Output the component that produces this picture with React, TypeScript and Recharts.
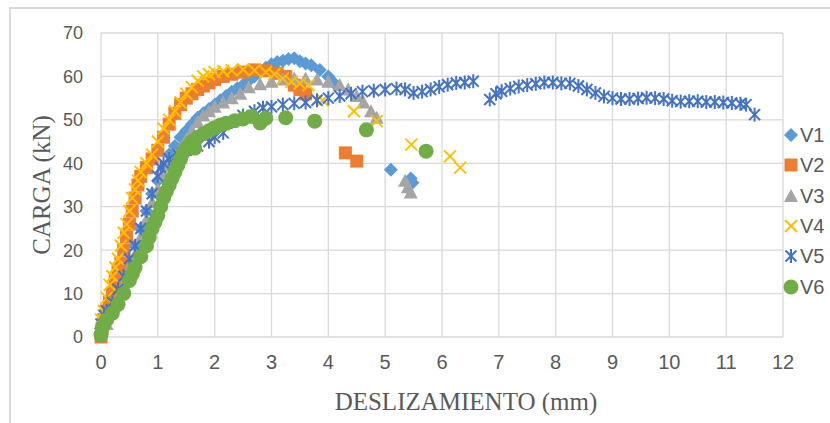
import React from "react";
import { CartesianGrid, Legend, Scatter, ScatterChart, XAxis, YAxis } from "recharts";

// [deslizamiento (mm), carga (kN)]
const v1: [number, number][] = [
  [0, 2], [0.05, 4], [0.1, 5], [0.2, 8], [0.3, 11], [0.4, 14], [0.5, 17], [0.6, 21], [0.7, 25],
  [0.8, 29], [0.9, 33], [1.0, 36], [1.1, 39], [1.2, 42], [1.3, 44], [1.4, 46], [1.5, 47.5],
  [1.6, 49], [1.7, 50.5], [1.8, 51.5], [1.9, 52.5], [2.0, 53.5], [2.1, 54.5], [2.2, 55.5],
  [2.3, 56.5], [2.4, 57.3], [2.5, 58], [2.6, 59], [2.7, 60], [2.8, 61], [2.9, 62], [3.0, 62.8],
  [3.1, 63.3], [3.2, 63.6], [3.3, 64], [3.4, 64.2], [3.5, 63.5], [3.6, 63], [3.7, 62.6],
  [3.85, 61.5], [4.0, 60], [4.1, 58.5], [5.1, 38.5], [5.45, 36.5], [5.48, 35.5],
];
const v2: [number, number][] = [
  [0, 0], [0.02, 2], [0.05, 4], [0.1, 6], [0.15, 8], [0.2, 10], [0.25, 13], [0.3, 15], [0.35, 17],
  [0.4, 20], [0.45, 23], [0.5, 26], [0.55, 29], [0.6, 32], [0.65, 35], [0.7, 37], [0.8, 39],
  [0.9, 41], [1.0, 43], [1.1, 46], [1.2, 49], [1.3, 51.5], [1.4, 53.5], [1.5, 55], [1.6, 56],
  [1.7, 57], [1.8, 57.8], [1.9, 58.5], [2.0, 59.3], [2.15, 60], [2.3, 60.5], [2.5, 61], [2.7, 61.5],
  [2.9, 61.3], [3.1, 60.7], [3.25, 60], [3.4, 58], [3.5, 57], [3.6, 56], [4.3, 42.4], [4.5, 40.5],
];
const v3: [number, number][] = [
  [0, 1], [0.1, 3], [0.2, 6], [0.3, 9], [0.4, 12], [0.5, 16], [0.6, 19], [0.7, 23], [0.8, 27],
  [0.9, 31], [1.0, 34], [1.1, 37], [1.2, 39.5], [1.3, 41.5], [1.4, 43.5], [1.5, 45.5], [1.6, 47.5],
  [1.7, 49.5], [1.8, 51], [1.9, 52], [2.0, 53], [2.15, 54], [2.3, 55], [2.45, 56], [2.6, 57.5],
  [2.8, 58.2], [3.0, 58.8], [3.2, 59.3], [3.4, 59.5], [3.6, 59.5], [3.8, 59.3], [4.0, 58.8],
  [4.2, 58], [4.35, 57], [4.5, 55.5], [4.62, 54], [4.75, 52], [4.85, 50.5], [5.35, 36], [5.4, 34.5],
  [5.45, 33.3],
];
const v4: [number, number][] = [
  [0, 4], [0.05, 6], [0.1, 9], [0.15, 12], [0.2, 14], [0.25, 16], [0.3, 18], [0.35, 21], [0.4, 24],
  [0.45, 26], [0.5, 29], [0.55, 32], [0.6, 34], [0.65, 36], [0.7, 38], [0.8, 40], [0.9, 42],
  [1.0, 45], [1.1, 48], [1.2, 50], [1.3, 52], [1.4, 54], [1.5, 56], [1.6, 57.5], [1.7, 59],
  [1.8, 60], [1.9, 60.5], [2.0, 61], [2.15, 61.2], [2.3, 61.4], [2.5, 61.6], [2.7, 61.4], [2.9, 61],
  [3.05, 60.5], [3.2, 59.5], [3.35, 58.8], [3.5, 58.4], [3.65, 58], [3.9, 54.5], [4.45, 52],
  [4.85, 49.7], [5.46, 44.3], [6.14, 41.6], [6.32, 39],
];
const v5: [number, number][] = [
  [0, 3], [0.05, 5], [0.1, 6], [0.2, 8], [0.3, 11], [0.4, 14], [0.5, 18], [0.6, 21], [0.7, 25],
  [0.8, 29], [0.9, 33], [1.0, 37], [1.05, 39], [1.1, 40], [1.2, 41], [1.35, 42], [1.5, 43],
  [1.7, 44], [1.9, 45], [2.0, 46], [2.15, 47], [2.3, 49.5], [2.5, 51], [2.7, 52], [2.85, 52.8],
  [3.0, 53], [3.2, 53.5], [3.4, 53.8], [3.6, 54], [3.8, 54.5], [4.0, 55], [4.2, 55.5], [4.4, 56],
  [4.6, 56.5], [4.8, 56.7], [5.0, 57], [5.2, 57.2], [5.35, 57], [5.5, 56.2], [5.65, 56.5],
  [5.8, 57], [5.95, 57.6], [6.1, 58.1], [6.25, 58.5], [6.4, 58.6], [6.55, 58.9], [6.84, 54.7],
  [6.95, 56], [7.05, 56.6], [7.2, 57.2], [7.35, 57.7], [7.5, 58], [7.65, 58.3], [7.8, 58.6],
  [7.95, 58.6], [8.1, 58.4], [8.25, 58.4], [8.4, 57.8], [8.55, 57], [8.7, 56.2], [8.85, 55.4],
  [9.0, 55], [9.15, 54.8], [9.3, 54.8], [9.45, 54.9], [9.6, 55.1], [9.75, 55], [9.9, 54.8],
  [10.05, 54.4], [10.2, 54.2], [10.35, 54.3], [10.5, 54.3], [10.65, 54.1], [10.8, 54.1],
  [10.95, 54], [11.1, 53.9], [11.25, 53.7], [11.35, 53.5], [11.5, 51.2],
];
const v6: [number, number][] = [
  [0, 0.5], [0.02, 2], [0.05, 3], [0.1, 4], [0.2, 5.5], [0.3, 7.5], [0.4, 10], [0.5, 13],
  [0.55, 14.5], [0.6, 16], [0.7, 18.5], [0.8, 21], [0.85, 23], [0.9, 25], [0.95, 26.5], [1.0, 28],
  [1.05, 30], [1.1, 32], [1.15, 33.5], [1.2, 35], [1.25, 36.5], [1.3, 38], [1.35, 39.5], [1.4, 41],
  [1.45, 42.5], [1.5, 43.5], [1.55, 44], [1.6, 45], [1.65, 43.5], [1.7, 46], [1.8, 46.8],
  [1.9, 47.5], [2.0, 48.2], [2.1, 48.8], [2.2, 49.2], [2.35, 49.8], [2.5, 50.2], [2.65, 50.8],
  [2.8, 49.3], [2.9, 50.4], [3.25, 50.5], [3.76, 49.7], [4.67, 47.7], [5.72, 42.8],
];

const xTicks = [0, 1, 2, 3, 4, 5, 6, 7, 8, 9, 10, 11, 12];
const yTicks = [0, 10, 20, 30, 40, 50, 60, 70];

type Kind = "diamond" | "square" | "triangle" | "x" | "star" | "circle";

const series: { name: string; data: [number, number][]; color: string; kind: Kind }[] = [
  { name: "V1", data: v1, color: "#5B9BD5", kind: "diamond" },
  { name: "V2", data: v2, color: "#ED7D31", kind: "square" },
  { name: "V3", data: v3, color: "#A5A5A5", kind: "triangle" },
  { name: "V4", data: v4, color: "#FFC000", kind: "x" },
  { name: "V5", data: v5, color: "#4472C4", kind: "star" },
  { name: "V6", data: v6, color: "#70AD47", kind: "circle" },
];

const GRID = "#d9d9d9";
const TEXT = "#595959";

function Marker({ cx, cy, kind, color }: { cx: number; cy: number; kind: Kind; color: string }) {
  if (cx == null || cy == null) return null;
  switch (kind) {
    case "diamond":
      return <polygon points={`${cx},${cy - 7} ${cx + 7},${cy} ${cx},${cy + 7} ${cx - 7},${cy}`} fill={color} />;
    case "square":
      return <rect x={cx - 6.5} y={cy - 6.5} width={13} height={13} fill={color} />;
    case "triangle":
      return <polygon points={`${cx},${cy - 7} ${cx + 7},${cy + 6} ${cx - 7},${cy + 6}`} fill={color} />;
    case "x":
      return (
        <g stroke={color} strokeWidth={2}>
          <line x1={cx - 6} y1={cy - 6} x2={cx + 6} y2={cy + 6} />
          <line x1={cx - 6} y1={cy + 6} x2={cx + 6} y2={cy - 6} />
        </g>
      );
    case "star":
      return (
        <g stroke={color} strokeWidth={2}>
          <line x1={cx - 5.5} y1={cy - 5.5} x2={cx + 5.5} y2={cy + 5.5} />
          <line x1={cx - 5.5} y1={cy + 5.5} x2={cx + 5.5} y2={cy - 5.5} />
          <line x1={cx} y1={cy - 7} x2={cx} y2={cy + 7} />
        </g>
      );
    default:
      return <circle cx={cx} cy={cy} r={7.5} fill={color} />;
  }
}

function YTitle({ viewBox }: any) {
  const x = viewBox.x + 50;
  const y = viewBox.y + viewBox.height / 2;
  return (
    <text x={x} y={y} transform={`rotate(-90, ${x}, ${y})`} textAnchor="middle"
      fontFamily="Liberation Serif" fontSize={25} fill={TEXT}>
      CARGA (kN)
    </text>
  );
}

function XTitle({ viewBox }: any) {
  const x = viewBox.x + viewBox.width / 2 + 24;
  return (
    <text x={x} y={410} textAnchor="middle" fontFamily="Liberation Serif" fontSize={25} fill={TEXT}>
      DESLIZAMIENTO (mm)
    </text>
  );
}

function LegendBox() {
  return (
    <div style={{ fontFamily: "Liberation Sans", fontSize: 20, color: TEXT }}>
      {series.map((s) => (
        <div key={s.name} style={{ display: "flex", alignItems: "center", height: 30.3 }}>
          <svg width={18} height={18} style={{ display: "block" }}>
            <Marker cx={9} cy={9} kind={s.kind} color={s.color} />
          </svg>
          <span style={{ lineHeight: "20px" }}>{s.name}</span>
        </div>
      ))}
    </div>
  );
}

export default function App() {
  return (
    <div style={{ position: "absolute", left: 0, top: 0, width: 830, height: 423, overflow: "hidden", background: "#fff" }}>
      <div style={{ position: "absolute", left: 9, top: 7, width: 900, height: 500, border: `2px solid ${GRID}` }} />
      <div style={{ position: "absolute", left: 0, top: 0 }}>
        <ScatterChart width={830} height={423} margin={{ top: 33, right: 47, bottom: 0, left: 0 }}>
          <CartesianGrid stroke={GRID} strokeWidth={1.3} />
          <XAxis type="number" dataKey="x" domain={[0, 12]} ticks={xTicks} interval={0}
            axisLine={false} tickLine={false} tickSize={0} tickMargin={18} height={86}
            tick={{ fill: TEXT, fontSize: 20, fontFamily: "Liberation Sans" }} label={<XTitle />} />
          <YAxis type="number" dataKey="y" domain={[0, 70]} ticks={yTicks} interval={0}
            axisLine={false} tickLine={false} tickSize={0} tickMargin={18} width={101}
            tick={{ fill: TEXT, fontSize: 18, fontFamily: "Liberation Sans" }} label={<YTitle />} />
          <Legend layout="vertical" align="center" verticalAlign="middle" content={<LegendBox />}
            wrapperStyle={{ left: 782, top: 120, width: 48 }} />
          {series.map((s) => (
            <Scatter key={s.name} name={s.name} data={s.data.map(([x, y]) => ({ x, y }))}
              isAnimationActive={false}
              shape={(p: any) => <Marker cx={p.cx} cy={p.cy} kind={s.kind} color={s.color} />} />
          ))}
        </ScatterChart>
      </div>
    </div>
  );
}
